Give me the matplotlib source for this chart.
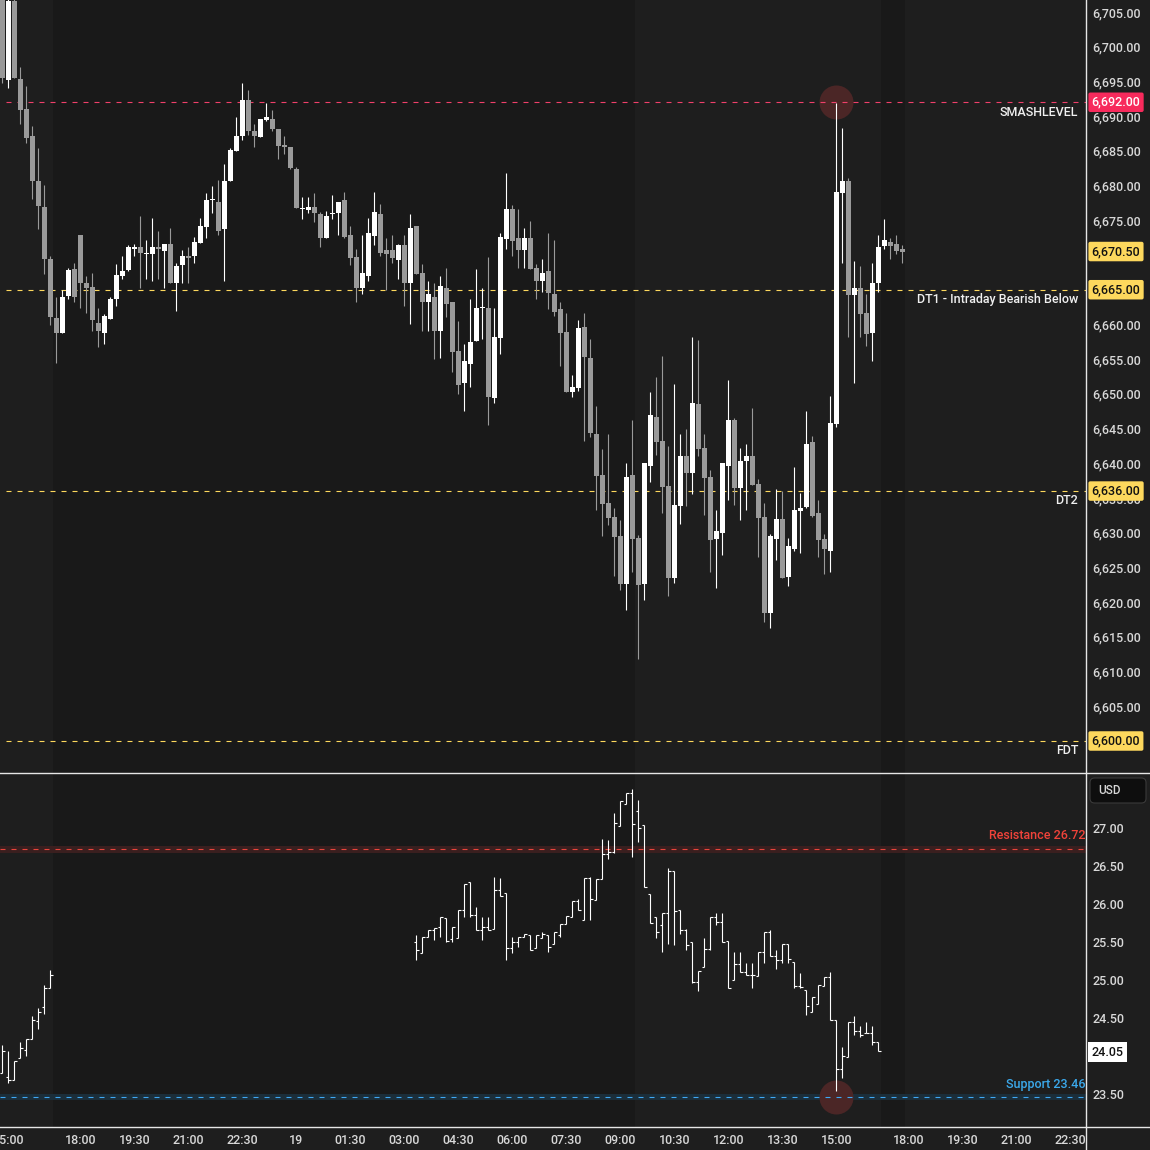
import numpy as np
import matplotlib
matplotlib.use("Agg")
import matplotlib.pyplot as plt
from matplotlib.collections import LineCollection
from matplotlib.lines import Line2D
from matplotlib.patches import FancyBboxPatch
import matplotlib.transforms as mtrans

plt.rcParams['font.family'] = ['Roboto', 'DejaVu Sans']
plt.rcParams['font.weight'] = 'medium'
nan = np.nan

# ---- ES 10-minute candles (bar index 0 = 14:50 on the 18th) ----
es_open = [6709.0, 6695.2, 6706.6, 6695.4, 6691.0, 6687.1, 6680.7, 6676.9, 6669.4, 6660.9,
           6658.7, 6664.1, 6668.0, 6672.9, 6666.0, 6665.4, 6660.2, 6658.8, 6660.8, 6663.6,
           6667.0, 6667.9, 6670.8, 6671.2, 6670.1, 6670.1, 6671.2, 6670.6, 6671.6, 6665.9,
           6668.6, 6669.9, 6669.8, 6671.8, 6674.1, 6677.9, 6677.6, 6673.8, 6680.7, 6685.0,
           6687.2, 6692.3, 6687.9, 6687.0, 6689.45, 6689.6, 6688.2, 6685.85, 6685.6, 6682.4,
           6676.6, 6676.5, 6676.9, 6675.9, 6672.4, 6675.9, 6676.1, 6677.9, 6672.9, 6669.7,
           6665.2, 6667.0, 6672.8, 6675.9, 6670.7, 6670.7, 6669.3, 6671.45, 6665.9, 6674.2,
           6667.4, 6663.3, 6664.0, 6659.1, 6665.3, 6663.2, 6656.2, 6651.6, 6654.3, 6657.6,
           6662.4, 6662.4, 6649.4, 6658.1, 6672.3, 6676.6, 6672.5, 6670.7, 6672.5, 6668.1,
           6666.3, 6667.7, 6664.4, 6662.2, 6658.9, 6650.3, 6650.9, 6659.6, 6655.2, 6644.2,
           6638.3, 6634.3, 6632.3, 6629.5, 6622.6, 6638.3, 6629.3, 6622.6, 6639.6, 6646.7,
           6643.2, 6636.8, 6623.5, 6633.9, 6641.1, 6638.6, 6648.6, 6642.2, 6638.0, 6629.1,
           6630.0, 6639.6, 6646.3, 6636.5, 6640.3, 6641.1, 6637.0, 6632.3, 6618.5, 6629.1,
           6632.0, 6623.6, 6627.7, 6633.1, 6633.7, 6643.1, 6632.9, 6629.1, 6627.4, 6645.7,
           6679.0, 6680.7, 6664.2, 6665.2, 6661.7, 6658.8, 6666.0, 6671.3, 6671.9, 6671.6,
           6670.9]
es_high = [6714.0, 6710.0, 6707.0, 6697.1, 6694.3, 6688.6, 6685.4, 6680.1, 6669.9, 6664.0,
           6665.0, 6668.1, 6668.9, 6672.9, 6667.0, 6667.4, 6662.4, 6661.5, 6664.0, 6668.7,
           6669.9, 6671.4, 6671.6, 6675.6, 6672.2, 6675.3, 6673.5, 6671.6, 6673.9, 6668.9,
           6670.7, 6671.2, 6672.6, 6675.3, 6678.9, 6680.0, 6680.8, 6683.1, 6685.4, 6689.9,
           6694.8, 6693.8, 6688.9, 6689.6, 6691.9, 6690.9, 6688.2, 6687.1, 6685.6, 6682.7,
           6678.4, 6678.4, 6678.9, 6676.2, 6676.3, 6678.65, 6677.6, 6679.1, 6674.2, 6670.9,
           6672.9, 6675.3, 6679.1, 6677.4, 6672.5, 6672.9, 6671.6, 6672.9, 6675.9, 6674.2,
           6668.7, 6666.2, 6666.0, 6667.0, 6668.1, 6663.2, 6660.5, 6657.2, 6663.7, 6668.0,
           6665.3, 6669.7, 6662.4, 6673.2, 6681.8, 6677.2, 6676.6, 6673.9, 6674.9, 6668.7,
           6669.4, 6673.2, 6672.2, 6663.2, 6661.7, 6652.7, 6660.6, 6661.7, 6657.9, 6648.3,
           6642.1, 6644.2, 6633.6, 6631.8, 6640.1, 6646.2, 6629.6, 6640.1, 6650.3, 6652.4,
           6655.5, 6642.5, 6651.4, 6644.2, 6644.9, 6658.2, 6657.8, 6644.2, 6639.0, 6633.3,
           6640.1, 6652.0, 6646.5, 6642.2, 6642.8, 6648.0, 6637.7, 6634.3, 6629.8, 6636.3,
           6636.0, 6629.3, 6639.5, 6635.7, 6647.5, 6643.9, 6634.7, 6629.8, 6649.7, 6691.9,
           6688.3, 6681.1, 6669.1, 6668.4, 6664.4, 6668.9, 6672.9, 6675.2, 6672.5, 6672.9,
           6671.4]
es_low = [6694.8, 6694.1, 6695.5, 6688.9, 6686.1, 6678.1, 6673.7, 6667.2, 6659.9, 6654.5,
          6658.7, 6663.7, 6663.2, 6662.4, 6661.7, 6659.0, 6656.8, 6657.2, 6660.8, 6662.7,
          6666.5, 6667.75, 6669.9, 6665.3, 6666.5, 6666.2, 6666.5, 6665.3, 6666.0, 6662.0,
          6666.0, 6666.0, 6668.9, 6671.8, 6672.5, 6676.0, 6672.9, 6666.2, 6680.7, 6685.0,
          6686.6, 6687.3, 6685.5, 6687.0, 6689.3, 6687.9, 6683.9, 6684.5, 6682.4, 6676.7,
          6675.2, 6676.0, 6674.7, 6671.2, 6672.4, 6675.2, 6672.9, 6672.5, 6668.5, 6663.3,
          6664.4, 6666.2, 6671.5, 6669.9, 6665.0, 6668.9, 6666.5, 6662.7, 6660.0, 6667.3,
          6659.0, 6659.0, 6655.0, 6655.2, 6661.0, 6653.2, 6650.0, 6647.6, 6651.0, 6657.6,
          6657.9, 6645.5, 6648.7, 6655.8, 6670.9, 6669.9, 6668.1, 6668.1, 6668.0, 6663.7,
          6664.7, 6662.2, 6661.2, 6654.0, 6650.3, 6649.6, 6650.4, 6643.2, 6643.8, 6633.3,
          6629.5, 6631.1, 6623.8, 6621.8, 6618.9, 6624.4, 6611.8, 6620.3, 6637.3, 6641.2,
          6632.9, 6620.9, 6622.8, 6631.3, 6633.9, 6635.6, 6641.1, 6632.6, 6624.4, 6622.1,
          6626.8, 6634.7, 6634.0, 6631.8, 6633.3, 6636.9, 6626.5, 6617.2, 6616.3, 6626.1,
          6623.5, 6622.3, 6627.4, 6627.1, 6633.6, 6632.3, 6626.5, 6624.1, 6624.4, 6645.2,
          6668.8, 6658.2, 6651.5, 6658.2, 6656.9, 6654.7, 6664.7, 6670.9, 6669.4, 6670.1,
          6668.9]
es_close = [6695.5, 6706.6, 6695.5, 6690.9, 6686.8, 6680.6, 6677.1, 6669.4, 6661.1, 6658.7,
            6664.0, 6667.8, 6663.9, 6665.9, 6665.3, 6660.6, 6659.1, 6661.2, 6663.7, 6667.1,
            6667.7, 6671.2, 6671.2, 6670.3, 6670.1, 6671.2, 6670.8, 6671.6, 6666.0, 6668.4,
            6669.9, 6669.6, 6671.9, 6674.2, 6677.9, 6677.9, 6673.5, 6680.7, 6685.1, 6687.1,
            6692.3, 6687.8, 6687.2, 6689.6, 6689.9, 6688.1, 6685.75, 6685.5, 6682.6, 6676.8,
            6676.6, 6676.9, 6676.1, 6672.4, 6675.6, 6675.9, 6677.6, 6672.65, 6669.6, 6665.2,
            6667.4, 6673.2, 6676.2, 6670.35, 6670.1, 6669.6, 6671.45, 6666.0, 6673.9, 6667.3,
            6663.3, 6664.4, 6659.1, 6665.5, 6662.9, 6656.0, 6651.3, 6654.7, 6657.5, 6662.4,
            6662.4, 6649.6, 6658.2, 6672.6, 6676.6, 6672.0, 6670.7, 6672.5, 6668.0, 6666.3,
            6667.4, 6664.5, 6661.8, 6658.8, 6650.3, 6651.0, 6659.5, 6655.3, 6644.4, 6638.2,
            6634.1, 6632.1, 6629.4, 6622.6, 6638.0, 6629.1, 6622.5, 6640.1, 6647.0, 6643.1,
            6636.6, 6623.5, 6634.0, 6641.1, 6638.6, 6648.7, 6642.1, 6637.9, 6629.0, 6630.3,
            6640.1, 6646.3, 6636.5, 6640.3, 6641.1, 6636.9, 6632.1, 6618.5, 6629.5, 6632.0,
            6623.5, 6628.1, 6633.3, 6633.6, 6642.8, 6632.4, 6629.0, 6627.7, 6645.8, 6679.1,
            6680.7, 6664.2, 6665.2, 6661.5, 6658.6, 6666.0, 6671.2, 6672.2, 6671.3, 6670.6,
            6670.5]

# ---- VIX bars on the same time grid (nan = no quote) ----
vix_open = ([23.77, 23.73, 23.69, 23.98, 24.08, 24.22, 24.46, 24.64, 24.89] + [nan] * 60 +
            [25.50, 25.35, 25.57, 25.66, 25.70, 25.81, 25.54, 25.55, 25.92, 26.29,
             25.86, 25.66, 25.70, 25.67, 26.18, 26.14, 25.42, 25.50, 25.57, 25.59,
             25.42, 25.55, 25.59, 25.48, 25.59, 25.74, 25.83, 26.04, 25.79, 26.34,
             26.05, 26.33, 26.66, 26.68, 27.03, 27.32, 27.46, 27.23, 27.04, 26.13,
             25.83, 25.72, 25.88, 26.43, 25.92, 25.66, 25.50, 24.97, 25.17, 25.41,
             25.83, 25.76, 25.52, 25.00, 25.21, 25.11, 25.07, 25.05, 25.37, 25.63,
             25.32, 25.26, 25.48, 25.24, 24.92, 24.87, 24.58, 24.69, 24.92, 25.04,
             24.48, 23.83, 23.99, 24.45, 24.33, 24.30, 24.30, 24.18] + [nan] * 4)
vix_high = ([24.14, 24.06, 23.93, 24.19, 24.22, 24.53, 24.63, 24.93, 25.13] + [nan] * 60 +
            [25.59, 25.57, 25.66, 25.68, 25.83, 25.81, 25.70, 25.92, 26.27, 26.29,
             25.96, 25.83, 25.83, 26.36, 26.34, 26.14, 25.57, 25.57, 25.61, 25.59,
             25.59, 25.63, 25.59, 25.63, 25.74, 25.84, 26.04, 26.07, 26.34, 26.36,
             26.33, 26.86, 26.84, 27.20, 27.36, 27.46, 27.51, 27.37, 27.04, 26.13,
             25.83, 25.88, 26.47, 26.43, 25.92, 25.67, 25.50, 25.12, 25.55, 25.83,
             25.88, 25.88, 25.52, 25.37, 25.37, 25.22, 25.22, 25.37, 25.63, 25.66,
             25.39, 25.48, 25.48, 25.24, 25.09, 24.87, 24.78, 24.93, 25.04, 25.10,
             24.48, 24.12, 24.45, 24.52, 24.39, 24.45, 24.40, 24.18] + [nan] * 4)
vix_low = ([23.77, 23.65, 23.69, 23.98, 24.00, 24.22, 24.36, 24.55, 24.89] + [nan] * 60 +
           [25.26, 25.35, 25.57, 25.53, 25.57, 25.50, 25.50, 25.55, 25.83, 25.83,
            25.66, 25.53, 25.66, 25.67, 26.10, 25.26, 25.35, 25.44, 25.57, 25.39,
            25.42, 25.55, 25.37, 25.48, 25.57, 25.74, 25.83, 25.92, 25.79, 25.79,
            26.05, 26.33, 26.59, 26.67, 27.03, 27.32, 26.62, 26.82, 26.23, 25.75,
            25.55, 25.37, 25.48, 25.46, 25.61, 25.39, 24.96, 24.85, 25.17, 25.39,
            25.72, 25.50, 24.89, 25.00, 25.10, 25.06, 24.89, 25.05, 25.22, 25.31,
            25.15, 25.22, 25.22, 24.89, 24.89, 24.54, 24.58, 24.69, 24.92, 24.48,
            23.54, 23.71, 23.99, 24.28, 24.25, 24.30, 24.15, 24.06] + [nan] * 4)
vix_close = ([24.06, 23.69, 23.93, 24.11, 24.22, 24.47, 24.58, 24.89, 25.07] + [nan] * 60 +
             [25.39, 25.57, 25.66, 25.68, 25.83, 25.51, 25.70, 25.92, 26.27, 25.86,
              25.66, 25.70, 25.66, 26.18, 26.10, 25.42, 25.50, 25.57, 25.60, 25.39,
              25.59, 25.60, 25.44, 25.63, 25.74, 25.84, 26.04, 25.92, 26.34, 26.07,
              26.33, 26.66, 26.68, 27.06, 27.36, 27.46, 27.05, 27.00, 26.23, 25.75,
              25.63, 25.88, 26.43, 25.91, 25.66, 25.46, 24.97, 25.12, 25.41, 25.83,
              25.76, 25.50, 24.89, 25.21, 25.11, 25.07, 25.06, 25.37, 25.63, 25.32,
              25.26, 25.48, 25.28, 24.92, 24.91, 24.66, 24.78, 24.93, 25.04, 24.48,
              23.83, 24.00, 24.45, 24.33, 24.27, 24.30, 24.19, 24.06] + [nan] * 4)

# time axis labels (bar index -> label)
time_ticks = [1, 13, 22, 31, 40, 49, 58, 67, 76, 85, 94, 103, 112, 121, 130, 139, 151, 160, 169, 178]
time_labels = ["15:00", "18:00", "19:30", "21:00", "22:30", "19", "01:30", "03:00", "04:30", "06:00",
               "07:30", "09:00", "10:30", "12:00", "13:30", "15:00", "18:00", "19:30", "21:00", "22:30"]
dark_sessions = [(8.45, 105.45), (146.45, 150.45)]

# price scale ticks (6,670.00 and 24.00 sit under the last-price tags)
es_ticks = [6600, 6605, 6610, 6615, 6620, 6625, 6630, 6635, 6640, 6645, 6650, 6655,
            6660, 6665, 6675, 6680, 6685, 6690, 6695, 6700, 6705]
vix_ticks = [23.5, 24.5, 25.0, 25.5, 26.0, 26.5, 27.0]

# key levels
es_levels = [6692.0, 6665.0, 6636.0, 6600.0]
es_level_names = ["SMASHLEVEL", "DT1 - Intraday Bearish Below", "DT2", "FDT"]
last_es, last_vix = 6670.50, 24.05
resistance, support = 26.72, 23.46
touch_bar = 139

# ---- style ----
BG, BG_DARK = "#1e1e1e", "#191919"
UP, DOWN = "#ffffff", "#9a9a9a"
YEL, PINK = "#fdd85d", "#f0406a"
TXT = "#d8d8d8"
FS = 9

W = H = 1150
fig = plt.figure(figsize=(11.5, 11.5), dpi=100, facecolor=BG)
axr = 1085.7 / W
ax1 = fig.add_axes([0, 1 - 773 / H, axr, 773 / H])
ax2 = fig.add_axes([0, 23 / H, axr, (1127 - 773) / H])
xlim = (-0.383, 180.57)
for a in (ax1, ax2):
    a.set_facecolor(BG)
    a.set_xlim(*xlim)
    for s in a.spines.values():
        s.set_visible(False)
    for x0, x1 in dark_sessions:
        a.axvspan(x0, x1, color=BG_DARK, lw=0, zorder=0)
    a.yaxis.tick_right()
    a.tick_params(axis="y", length=0, pad=5, labelsize=FS, labelcolor=TXT)
    a.tick_params(axis="x", length=0)
ax1.set_ylim(6595.39, 6706.73)
ax2.set_ylim(23.066, 27.724)

# ---- candles ----
x = np.arange(len(es_open))
o, h, l, c = map(np.array, (es_open, es_high, es_low, es_close))
cols = np.where(c >= o, UP, DOWN)
ax1.vlines(x, l, h, colors=cols, lw=0.8, zorder=3)
body = np.maximum(np.abs(c - o), 0.15)
ax1.bar(x, body, bottom=np.minimum(o, c), width=0.83, color=cols, lw=0, zorder=4)

ax1.set_yticks(es_ticks)
ax1.set_yticklabels([f"{v:,.2f}" for v in es_ticks])
ax1.set_xticks([])

dash = (0, (4.5, 5.4))
blend1 = mtrans.blended_transform_factory(ax1.transAxes, ax1.transData)
for lv, name in zip(es_levels, es_level_names):
    col = PINK if lv == es_levels[0] else YEL
    ax1.plot([0.6, xlim[1]], [lv, lv], color=col, lw=0.8, ls=dash, zorder=2)
    ax1.annotate(name, (1, lv), xycoords=blend1, xytext=(-5.5, -7.2 if lv == es_levels[0] else -6.8),
                 textcoords="offset points", ha="right", va="center", color="#f0f0f0", fontsize=FS, zorder=6)
    ax1.text(1.0055, lv, f"{lv:,.2f}", transform=blend1, ha="left", va="center", fontsize=FS,
             color="#ffffff" if col == PINK else "#111111", clip_on=False, zorder=20,
             bbox=dict(boxstyle="round,pad=0.26,rounding_size=0.15", fc="#f72a5c" if col == PINK else YEL, ec="none"))
ax1.text(1.0055, last_es, f"{last_es:,.2f}", transform=blend1, ha="left", va="center", fontsize=FS,
         color="#111111", clip_on=False, zorder=20,
         bbox=dict(boxstyle="round,pad=0.26,rounding_size=0.15", fc=YEL, ec="none"))
ax1.plot([touch_bar], [es_levels[0]], "o", ms=24.5, color="#4b2626", mec="none", zorder=1.5)

# ---- VIX OHLC bars ----
vo, vh, vl, vc = map(np.array, (vix_open, vix_high, vix_low, vix_close))
segs = []
for i in range(len(vo)):
    if np.isnan(vo[i]):
        continue
    segs.append([(i, vl[i]), (i, vh[i])])
    segs.append([(i - 0.42, vo[i]), (i, vo[i])])
    segs.append([(i, vc[i]), (i + 0.42, vc[i])])
ax2.add_collection(LineCollection(segs, colors="#ffffff", linewidths=0.8, zorder=4))

ax2.axhspan(resistance - 0.044, resistance + 0.044, color="#3a1f1f", lw=0, zorder=1)
ax2.axhspan(support - 0.044, support + 0.044, color="#1b2e3a", lw=0, zorder=1)
ax2.axhline(resistance, color="#e8453c", lw=0.8, ls=dash, zorder=2)
ax2.axhline(support, color="#3fa9f5", lw=0.8, ls=dash, zorder=2)
blend2 = mtrans.blended_transform_factory(ax2.transAxes, ax2.transData)
ax2.annotate(f"Resistance {resistance:.2f}", (1, resistance), xycoords=blend2, xytext=(-0.5, 10),
             textcoords="offset points", ha="right", va="center", color="#f0433a", fontsize=FS, zorder=6)
ax2.annotate(f"Support {support:.2f}", (1, support), xycoords=blend2, xytext=(-0.5, 9.4),
             textcoords="offset points", ha="right", va="center", color="#3ba9ec", fontsize=FS, zorder=6)
ax2.plot([touch_bar], [support], "o", ms=24.5, color="#4b2626", mec="none", zorder=1.5)

ax2.set_yticks(vix_ticks)
ax2.set_yticklabels([f"{v:.2f}" for v in vix_ticks])
ax2.text(1.0055, last_vix, f"{last_vix:.2f}", transform=blend2, ha="left", va="center", fontsize=FS,
         color="#111111", clip_on=False, zorder=20,
         bbox=dict(boxstyle="square,pad=0.28", fc="#ffffff", ec="none"))
ax2.set_xticks(time_ticks)
ax2.set_xticklabels(time_labels)
ax2.tick_params(axis="x", pad=5, labelsize=FS, labelcolor=TXT)

# currency badge
fig.add_artist(FancyBboxPatch((1090 / W, 1 - 803 / H), 56 / W, 25 / H,
                              boxstyle="round,pad=0,rounding_size=0.004", transform=fig.transFigure,
                              fc="#0e0e0e", ec="#3a3a3a", lw=0.8, zorder=25))
fig.text(1098 / W, 1 - 791 / H, "USD", ha="left", va="center", fontsize=FS - 0.5, color=TXT, zorder=26)

# panel separators
for (x0, y0, x1, y1) in [(0, 773, W, 773), (0, 1127, W, 1127), (1085.7, 0, 1085.7, H)]:
    fig.add_artist(Line2D([x0 / W, x1 / W], [1 - y0 / H, 1 - y1 / H], color="#e6e6e6", lw=1.0, zorder=30))

fig.savefig("out.png", dpi=100, facecolor=BG)
